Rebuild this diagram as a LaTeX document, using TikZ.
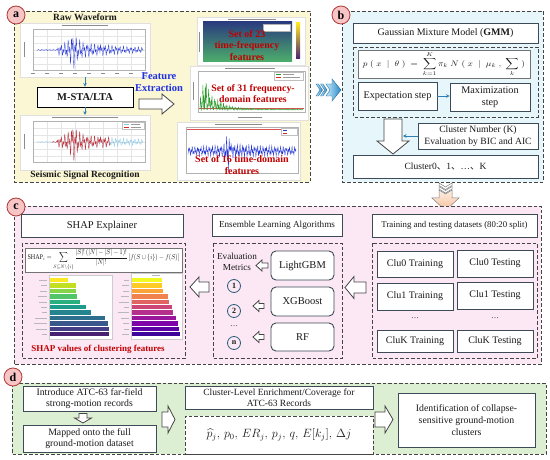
\documentclass[tikz,border=0pt]{standalone}
\usepackage{fontspec}
\setmainfont{Liberation Serif}
\newfontfamily\cjkfont{Noto Sans CJK SC}
\usepackage{amsmath}
\usepackage{amssymb}
\usepackage{graphicx}
\usetikzlibrary{arrows.meta,calc}

\definecolor{ayel}{HTML}{FBF6D3}
\definecolor{bcyan}{HTML}{E6F6FA}
\definecolor{cpink}{HTML}{FBE8F4}
\definecolor{dgreen}{HTML}{DCEFD3}
\definecolor{dgray}{HTML}{444444}
\definecolor{boxc}{HTML}{3D4A57}
\definecolor{lblfill}{HTML}{F7C5C5}
\definecolor{lbldraw}{HTML}{B03A3A}
\definecolor{arrblue}{HTML}{2F7FB5}
\definecolor{featblue}{HTML}{1E32E6}
\definecolor{setred}{HTML}{C00000}
\definecolor{wblue}{HTML}{2436D6}
\definecolor{lblue}{HTML}{8CC8E8}
\definecolor{wred}{HTML}{D62728}
\definecolor{fgreen}{HTML}{2E9A2E}
\definecolor{numc}{HTML}{2D5C7A}
\definecolor{txt}{HTML}{1A1A1A}
\definecolor{specA}{HTML}{2A3B7E}
\definecolor{specB}{HTML}{2B6F9A}
\definecolor{specC}{HTML}{4DAF6A}
\definecolor{chevA}{HTML}{BFEAF8}
\definecolor{chevB}{HTML}{2A86C8}
\definecolor{peachA}{HTML}{FDEEE2}
\definecolor{peachB}{HTML}{F5C09A}
\definecolor{vir1}{HTML}{FDE725}\definecolor{vir2}{HTML}{C2DF23}\definecolor{vir3}{HTML}{86D549}
\definecolor{vir4}{HTML}{52C569}\definecolor{vir5}{HTML}{2AB07F}\definecolor{vir6}{HTML}{1E9B8A}
\definecolor{vir7}{HTML}{25858E}\definecolor{vir8}{HTML}{2D708E}\definecolor{vir9}{HTML}{38588C}
\definecolor{vir10}{HTML}{433E85}\definecolor{vir11}{HTML}{482173}
\definecolor{pla1}{HTML}{F0F921}\definecolor{pla2}{HTML}{FDCA26}\definecolor{pla3}{HTML}{FBA238}
\definecolor{pla4}{HTML}{F1814D}\definecolor{pla5}{HTML}{E16462}\definecolor{pla6}{HTML}{CC4778}
\definecolor{pla7}{HTML}{B52F8C}\definecolor{pla8}{HTML}{9A179B}\definecolor{pla9}{HTML}{7E03A8}
\definecolor{pla10}{HTML}{5C01A6}\definecolor{pla11}{HTML}{3E049C}

\newcommand{\blkarrow}[6]{%
  \begin{scope}[shift={#1},rotate=#2]
  \draw[blk] (0,-#4) -- ({#3-#6},-#4) -- ({#3-#6},-#5) -- (#3,0) -- ({#3-#6},#5) -- ({#3-#6},#4) -- (0,#4) -- cycle;
  \end{scope}}

\tikzset{
  panel/.style={draw=dgray, dash pattern=on 3.5pt off 2pt, line width=0.8pt},
  dbox/.style={draw=dgray, dash pattern=on 3.5pt off 2pt, line width=0.8pt},
  box/.style={draw=boxc, fill=white, line width=0.9pt, inner sep=1pt, align=center, text=txt},
  rbox/.style={box, rounded corners=5pt},
  blk/.style={draw=dgray, fill=white, line width=0.8pt, line join=miter},
  blu/.style={draw=arrblue, line width=0.8pt, -{Stealth[length=3.5pt,width=3.5pt]}},
  lbl/.style={circle, draw=lbldraw, fill=lblfill, line width=0.8pt, minimum size=18pt, inner sep=0pt, font=\fontsize{12}{12}\selectfont\bfseries},
  img/.style={fill=white, draw=black!12, line width=0.3pt, inner sep=0pt},
  axg/.style={draw=black!30, line width=0.3pt},
  gridc/.style={draw=black!10, line width=0.25pt},
  titc/.style={draw=black!45, line width=0.8pt},
  labc/.style={draw=black!28, line width=0.5pt},
  redt/.style={text=setred, font=\fontsize{10}{11.5}\selectfont\bfseries, align=center},
  num/.style={circle, draw=numc, line width=0.8pt, minimum size=13pt, inner sep=0pt, text=txt, font=\fontsize{8}{8}\selectfont\bfseries},
  declare function={
    envA(\x)=0.6+(\x>57)*(1.5+9/(1+((\x-73)/2)^2)+8/(1+((\x-74)/9)^2)+3/(1+((\x-100)/25)^2));
    osc(\x)=sin(mod(\x,100)*157)*cos(mod(\x,100)*61);
    fenv(\x)=1+26/(1+((\x-205)/4)^2)+8/(1+((\x-214)/12)^2);
    tenv(\x)=4+3/(1+((\x-240)/30)^2)+20/(1+((\x-228)/1.2)^2);
  }
}

\begin{document}
\begin{tikzpicture}[x=1pt,y=-1pt,font=\fontsize{10}{12}\selectfont]
\useasboundingbox (0,0) rectangle (550,460);
\fill[white] (0,0) rectangle (550,460);

% ================= Panel a =================
\draw[panel, fill=ayel] (14,11) rectangle (310,182);

\node[font=\fontsize{9.5}{11}\selectfont\bfseries, text=txt] (rawt) at (85,17) {Raw Waveform};

% plot 1
\node[img, minimum width=130pt, minimum height=54pt] (p1) at (85,50) {};
\foreach \g in {47,61,75,89,103,117,131} \draw[gridc] (\g,29) -- (\g,70);
\foreach \g in {36,43,50,57,64} \draw[gridc] (33,\g) -- (145,\g);
\draw[axg] (33,29) rectangle (145,70);
\draw[titc] (62,25.5) -- (108,25.5);
\draw[titc, line width=0.5pt] (24,42) -- (24,57);
\foreach \g in {33,47,61,75,89,103,117,131,145} \draw[titc, line width=0.5pt] (\g-2,73.5) -- (\g+2,73.5);
\draw[wblue, line width=0.3pt] plot[domain=37:143, samples=420] (\x, {50-envA(\x)*osc(\x)});

\node[box, draw=black, minimum width=96pt, minimum height=20pt, font=\fontsize{10.5}{12}\selectfont\bfseries] (msta) at (85,97) {M-STA/LTA};

% plot 2
\node[img, minimum width=130pt, minimum height=55pt] (p2) at (85,142.5) {};
\foreach \g in {47,61,75,89,103,117,131} \draw[gridc] (\g,121) -- (\g,162);
\foreach \g in {128,135,142,149,156} \draw[gridc] (33,\g) -- (145,\g);
\draw[axg] (33,121) rectangle (145,162);
\draw[titc] (52,117.5) -- (118,117.5);
\draw[titc, line width=0.5pt] (24,134) -- (24,149);
\draw[lblue, line width=0.3pt] plot[domain=37:143, samples=420] (\x, {142-envA(\x)*osc(\x)});
\draw[wred, line width=0.3pt] plot[domain=52:110, samples=240] (\x, {142-envA(\x)*osc(\x)});
\draw[black!25, fill=white, line width=0.3pt] (122,122) rectangle (144,129);
\draw[lblue, line width=0.6pt] (124,124) -- (129,124);
\draw[wred, line width=0.6pt] (124,127) -- (129,127);
\draw[black!40, line width=0.5pt] (131,124) -- (140,124) (131,127) -- (141,127);

\draw[blu] (p1.south) -- (msta.north);
\draw[blu] (msta.south) -- (p2.north);

\node[font=\fontsize{9.5}{11}\selectfont\bfseries, text=txt] (sigt) at (85,175.5) {Seismic Signal Recognition};

\node[font=\fontsize{10.5}{12}\selectfont\bfseries, text=featblue, align=center] (feat) at (159,82) {Feature\\Extraction};
\blkarrow{(139,104)}{0}{35}{5}{10}{12}

% spectrogram
\node[img, minimum width=108pt, minimum height=48pt] (sp) at (251,41) {};
\shade[top color=specA, middle color=specB, bottom color=specC] (203,22) rectangle (292,62);
\draw[titc] (228,19.5) -- (276,19.5);
\draw[black!30, fill=white, line width=0.3pt] (263,24) rectangle (290,31);
\shade[top color=vir1, middle color=vir6, bottom color=vir11] (296,23) rectangle (300,59);
\draw[titc, line width=0.5pt] (199,32) -- (199,52);

% frequency plot
\node[img, minimum width=118pt, minimum height=54pt] (fq) at (249,93) {};
\draw[axg] (198,71) rectangle (305,112);
\draw[titc] (225,68.5) -- (275,68.5);
\draw[titc, line width=0.5pt] (193,82) -- (193,100);
\draw[titc, line width=0.5pt] (238,117) -- (262,117);
\draw[wred!80, line width=0.4pt] (199,108) -- (304,108);
\draw[fgreen, line width=0.3pt] plot[domain=200:303, samples=420] (\x, {110-fenv(\x)*abs(osc(\x))});
\draw[black!25, fill=white, line width=0.3pt] (274,72) rectangle (303,80);
\draw[fgreen, line width=0.6pt] (276,74.5) -- (281,74.5);
\draw[wred, line width=0.6pt] (276,77.5) -- (281,77.5);
\draw[black!40, line width=0.5pt] (283,74.5) -- (294,74.5) (283,77.5) -- (300,77.5);

% time-domain plot
\node[img, minimum width=123pt, minimum height=58pt] (td) at (238.5,151) {};
\draw[axg] (186,127) rectangle (298,173);
\draw[titc] (215,124.3) -- (262,124.3);
\draw[wred!80, line width=0.4pt] (187,129) -- (297,129);
\draw[wblue, line width=0.3pt] plot[domain=188:296, samples=420] (\x, {151-tenv(\x)*osc(\x*1.3)});
\draw[black!25, fill=white, line width=0.3pt] (281,128) rectangle (297,135);
\draw[wblue, line width=0.6pt] (283,130) -- (287,130);
\draw[wred, line width=0.6pt] (283,133) -- (287,133);

\node[redt] (s23) at (247,45.5) {Set of 23\\time-frequency\\features};
\node[redt, font=\fontsize{9.8}{11}\selectfont\bfseries] (s31) at (253,93.5) {Set of 31 frequency-\\domain features};
\node[redt] (s16) at (242,165) {Set of 16 time-domain\\features};

\node[lbl] (la) at (16,15) {a};

% a -> b chevron arrow
\shade[left color=chevA, right color=chevB, draw=chevB!80!black, line width=0.4pt]
  (326,84) -- (332,84) -- (332,79) -- (341,90) -- (332,101) -- (332,96) -- (326,96) -- (330,90) -- cycle;
\shade[left color=chevA, right color=chevB, draw=chevB!80!black, line width=0.4pt]
  (316,84) -- (318.5,84) -- (322.5,90) -- (318.5,96) -- (316,96) -- (320,90) -- cycle;
\shade[left color=chevA, right color=chevB, draw=chevB!80!black, line width=0.4pt]
  (320.5,84) -- (323,84) -- (327,90) -- (323,96) -- (320.5,96) -- (324.5,90) -- cycle;

% ================= Panel b =================
\draw[panel, fill=bcyan] (342,11) rectangle (543,182);
\node[lbl] (lb) at (341,15) {b};
\node[box, minimum width=185pt, minimum height=20pt] (gmm) at (445.5,33) {Gaussian Mixture Model (\textbf{GMM})};
\draw[dbox] (353,47) rectangle (538,117);
\node[box, draw=black!55, minimum width=172pt, minimum height=28pt, inner sep=0pt] (gform) at (444,64)
  {\resizebox*{162pt}{25pt}{$\displaystyle p\;(\;x\;\mid\;\theta\;)\;=\;\sum_{k=1}^{K}\pi_{k}\;N\;(\;x\;\mid\;\mu_{k}\;,\;\sum_{k}\;)$}};
\node[box, minimum width=79pt, minimum height=28pt, font=\fontsize{10.2}{12}\selectfont] (estep) at (397.5,96) {Expectation step};
\node[box, minimum width=80pt, minimum height=28pt, font=\fontsize{10.2}{12}\selectfont] (mstep) at (490,97) {Maximization\\step};
\draw[blu] (estep.east) -- (estep.east -| mstep.west);
\blkarrow{(393,119)}{-90}{35}{9}{16}{13}
\node[box, minimum width=120pt, minimum height=26pt, font=\fontsize{9.6}{12}\selectfont] (cnum) at (478,136) {Cluster Number (K)\\Evaluation by BIC and AIC};
\coordinate (cnl) at (403,136);
\draw[blu] (cnum.west) -- (cnl);
\node[box, minimum width=185pt, minimum height=23pt, font=\fontsize{9.5}{12}\selectfont] (clus) at (445.5,166.5) {Cluster0{\cjkfont 、}1{\cjkfont 、}…{\cjkfont 、}K};

% b -> c peach arrow
\shade[top color=peachA, bottom color=peachB, draw=black!50, line width=0.5pt]
  (439,190) -- (445.5,194) -- (452,190) -- (452,198) -- (459,198) -- (445.5,210.5) -- (432,198) -- (439,198) -- cycle;
\fill[white, draw=black!50, line width=0.5pt] (439,183) -- (445.5,187) -- (452,183) -- (452,185.5) -- (445.5,189.5) -- (439,185.5) -- cycle;
\fill[white, draw=black!50, line width=0.5pt] (439,186.5) -- (445.5,190.5) -- (452,186.5) -- (452,189) -- (445.5,193) -- (439,189) -- cycle;

% ================= Panel c =================
\draw[panel, fill=cpink] (14,206) rectangle (541,364);
\node[lbl] (lc) at (16,207) {c};

\node[box, minimum width=162pt, minimum height=23pt, font=\fontsize{10.5}{12}\selectfont] (shapt) at (102,225.5) {SHAP Explainer};
\draw[dbox] (22,243) rectangle (185,358);
\node[box, draw=black!55, minimum width=157pt, minimum height=24pt, inner sep=0pt] (shapf) at (103.5,260)
  {\resizebox*{152pt}{21pt}{$\displaystyle \mathrm{SHAP}_i=\sum_{S\subseteq N\setminus\{i\}}\frac{|S|!\,(|N|-|S|-1)!}{|N|!}\left[f(S\cup\{i\})-f(S)\right]$}};
% bar charts
\fill[white] (49,275) rectangle (112,339);
\draw[black!20, line width=0.3pt] (49,275) rectangle (112,339);
\fill[white] (131,273) rectangle (182,339);
\draw[black!20, line width=0.3pt] (131,273) rectangle (182,339);
\foreach \i/\w/\l in {1/18/8,2/26/6,3/26/7,4/27/9,5/30/8,6/36/6,7/41/5,8/55/12,9/58/13,10/59/11,11/59/5}{
  \fill[vir\i] (50,{278+(\i-1)*5.4}) rectangle ({50+\w},{278+(\i-1)*5.4+4.4});
  \draw[labc] ({47-\l},{280.2+(\i-1)*5.4}) -- (47,{280.2+(\i-1)*5.4});
}
\foreach \i/\w/\l in {1/30/5,2/30/7,3/31/6,4/36/8,5/37/10,6/40/5,7/41/11,8/44/8,9/46/6,10/47/5,11/48/7}{
  \fill[pla\i] (132,{278+(\i-1)*5.4}) rectangle ({132+\w},{278+(\i-1)*5.4+4.4});
  \draw[labc] ({129-\l},{280.2+(\i-1)*5.4}) -- (129,{280.2+(\i-1)*5.4});
}
\draw[labc] (152,275) -- (160,275);
\node[text=setred, font=\fontsize{9}{11}\selectfont\bfseries] (shapl) at (98,349.5) {SHAP values of clustering features};
\blkarrow{(209,287)}{180}{19}{5}{10}{9}

\node[box, minimum width=130pt, minimum height=22pt, font=\fontsize{9.2}{12}\selectfont] (enst) at (277,225) {Ensemble Learning Algorithms};
\draw[dbox] (213,243) rectangle (342,358);
\node[align=center, text=txt, font=\fontsize{9.2}{10.5}\selectfont] (evm) at (237,262) {Evaluation\\Metrics};
\node[num] (n1) at (234,286) {1};
\node[num] (n2) at (234,311) {2};
\node[text=txt, font=\fontsize{8}{8}\selectfont] (ndots) at (234,326) {…};
\node[num] (nn) at (234,343) {n};
\node[rbox, minimum width=63pt, minimum height=29pt, font=\fontsize{10.5}{12}\selectfont] (lgbm) at (302.5,265.5) {LightGBM};
\node[rbox, minimum width=63pt, minimum height=29pt, font=\fontsize{10.5}{12}\selectfont] (xgb) at (302.5,301.5) {XGBoost};
\node[rbox, minimum width=63pt, minimum height=28pt, font=\fontsize{10.5}{12}\selectfont] (rf) at (302.5,337) {RF};
\blkarrow{(268,265.5)}{180}{12}{2.5}{5.5}{6}
\blkarrow{(264,306)}{180}{11}{2.5}{5.5}{6}
\blkarrow{(264,337)}{180}{11}{2.5}{5.5}{6}
\blkarrow{(366,287.5)}{180}{21}{5.5}{11}{9}

\node[box, minimum width=165pt, minimum height=23pt, font=\fontsize{8.8}{12}\selectfont] (trt) at (454.5,225.5) {Training and testing datasets (80:20 split)};
\draw[dbox] (372,243) rectangle (537,358);
\node[box, minimum width=76pt, minimum height=26pt] (c0tr) at (415,264) {Clu0 Training};
\node[box, minimum width=76pt, minimum height=27pt] (c0te) at (495,263.5) {Clu0 Testing};
\node[box, minimum width=76pt, minimum height=27pt] (c1tr) at (415,296.5) {Clu1 Training};
\node[box, minimum width=76pt, minimum height=27pt] (c1te) at (495,295.5) {Clu1 Testing};
\node[text=txt, font=\fontsize{8}{8}\selectfont] (d1) at (415,318) {…};
\node[text=txt, font=\fontsize{8}{8}\selectfont] (d2) at (495,318) {…};
\node[box, minimum width=76pt, minimum height=22pt] (cktr) at (415,341) {CluK Training};
\node[box, minimum width=76pt, minimum height=22pt] (ckte) at (495,341) {CluK Testing};

% ================= Panel d =================
\draw[panel, fill=dgreen] (12,383) rectangle (546,454);
\node[lbl] (ld) at (13,377) {d};
\node[box, minimum width=133pt, minimum height=25pt, font=\fontsize{9.8}{11.5}\selectfont] (intro) at (89.5,398.5) {Introduce ATC-63 far-field\\strong-motion records};
\blkarrow{(83,413.5)}{-90}{9.5}{4}{8.5}{5}
\node[box, minimum width=133pt, minimum height=27pt, font=\fontsize{9.8}{11.5}\selectfont] (mapd) at (89.5,438.5) {Mapped onto the full\\ground-motion dataset};
\blkarrow{(162,419.5)}{0}{13}{7.5}{13.5}{7}
\node[box, minimum width=188pt, minimum height=23pt, font=\fontsize{9.5}{11}\selectfont] (enr) at (279,397.5) {Cluster-Level Enrichment/Coverage for\\ATC-63 Records};
\node[dbox, fill=white, minimum width=188pt, minimum height=38pt, inner sep=0pt, text=txt, font=\fontsize{12}{14}\selectfont] (dform) at (279,435)
  {$\widehat{p}_j,\, p_0,\, ER_j,\, p_j,\, q,\, E[k_j],\, \Delta j$};
\blkarrow{(375,419.5)}{0}{18}{7.5}{13.5}{8}
\node[box, minimum width=137pt, minimum height=54pt, font=\fontsize{9.8}{12}\selectfont] (ident) at (466.5,420) {Identification of collapse-\\sensitive ground-motion\\clusters};

\end{tikzpicture}
\end{document}
